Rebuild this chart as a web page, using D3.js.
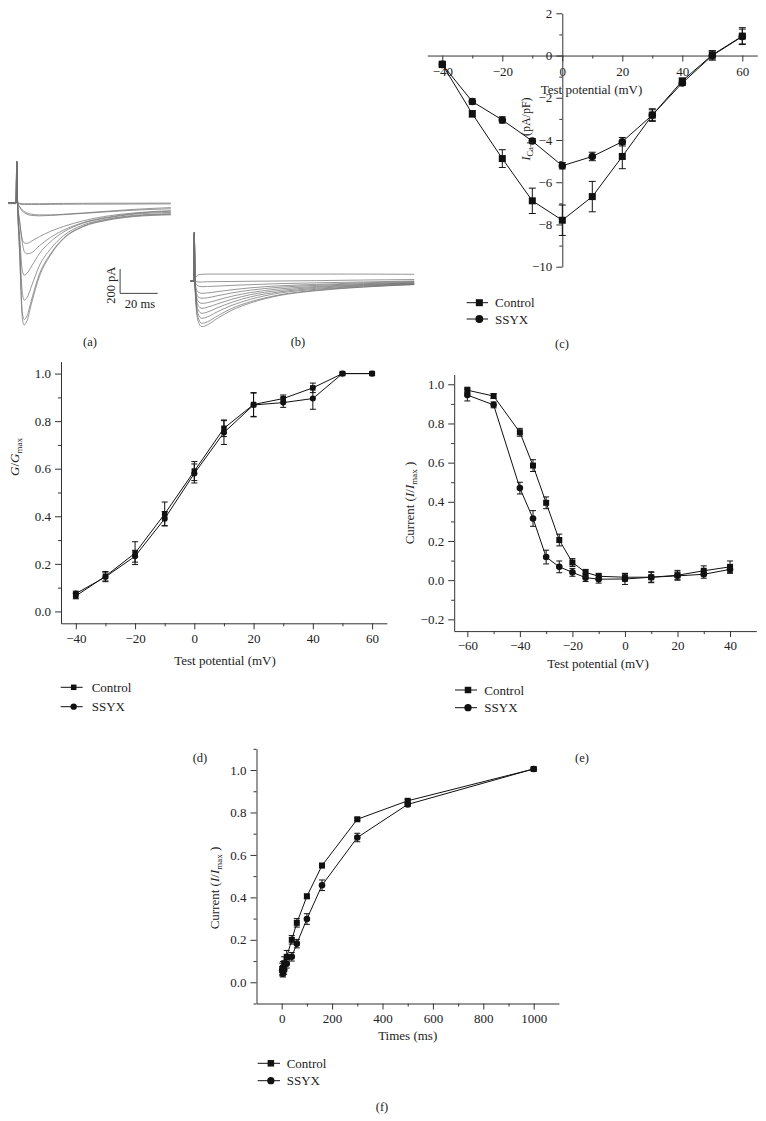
<!DOCTYPE html>
<html><head><meta charset="utf-8">
<script src="https://cdn.jsdelivr.net/npm/d3@7"></script>
<style>
body{margin:0;background:#fff}
svg text{font-family:"Liberation Serif","Times New Roman",serif;fill:#222}
</style>
</head><body>
<svg id="fig" width="766" height="1121"></svg>
<script>
// ---------- DATA ----------
// Panel (a): current traces (pA) vs time (ms)
const timesA = [-4.5, -0.3, 0, 0.5, 1.5, 3, 4, 5.5, 8, 12, 18, 25, 35, 48, 62, 82];
const tracesA = [
  [0, 0, 337, 0, -5, -8, -8, -8, -8, -8, -7, -6, -5, -4, -4, -3],
  [-8, -8, 337, -5, -10, -15, -15, -15, -15, -15, -14, -13, -12, -12, -11, -10],
  [0, 0, 337, -5, -30, -60, -72, -85, -95, -100, -100, -95, -85, -70, -55, -40],
  [0, 0, 337, -5, -35, -70, -82, -95, -105, -108, -105, -98, -88, -75, -62, -50],
  [0, 0, 337, -10, -150, -300, -330, -334, -315, -280, -235, -195, -150, -110, -85, -65],
  [0, 0, 337, -10, -140, -330, -400, -420, -410, -355, -285, -225, -165, -120, -90, -70],
  [0, 0, 337, -15, -250, -560, -595, -580, -520, -420, -320, -240, -170, -125, -95, -80],
  [0, 0, 337, -20, -320, -740, -800, -780, -680, -520, -380, -270, -185, -135, -105, -90],
  [0, 0, 337, -20, -380, -900, -960, -930, -790, -590, -420, -290, -195, -140, -110, -95],
  [0, 0, 337, -25, -400, -950, -1005, -970, -820, -610, -430, -295, -200, -145, -115, -100]
];
const scaleBarA = {t: 55, i: -745, dt: 20, di: 200};
// Panel (b)
const timesB = [-2, -0.3, 0, 0.4, 2, 4, 7, 12, 20, 30, 45, 65, 90, 117];
const tracesB = [
  [0, 0, 397, 30, 50, 55, 57, 57, 57, 57, 57, 57, 57, 55],
  [0, 0, 397, 0, -8, -8, -6, -5, -4, -2, 0, 3, 8, 12],
  [0, 0, 397, -10, -40, -47, -45, -42, -36, -30, -22, -15, -8, 0],
  [0, 0, 397, -20, -90, -101, -98, -88, -72, -56, -40, -28, -15, -5],
  [0, 0, 397, -25, -130, -142, -138, -122, -98, -75, -52, -36, -22, -10],
  [0, 0, 397, -30, -165, -184, -178, -158, -125, -95, -65, -45, -28, -15],
  [0, 0, 397, -35, -200, -225, -215, -190, -150, -112, -78, -52, -32, -18],
  [0, 0, 397, -40, -235, -266, -255, -222, -175, -130, -90, -60, -38, -22],
  [0, 0, 397, -45, -270, -307, -295, -255, -200, -150, -100, -68, -42, -25],
  [0, 0, 397, -50, -300, -348, -335, -290, -225, -170, -115, -75, -48, -28],
  [0, 0, 397, -55, -330, -375, -360, -310, -240, -180, -120, -80, -50, -30]
];

// Panel (c): I-V relationship
const potC = [-40, -30, -20, -10, 0, 10, 20, 30, 40, 50, 60];
const ctrlC = [-0.42, -2.76, -4.88, -6.88, -7.8, -6.68, -4.78, -2.82, -1.2, 0.03, 0.92];
const ctrlCErr = [0.15, 0.15, 0.42, 0.6, 0.72, 0.72, 0.58, 0.3, 0.12, 0.2, 0.4];
const ssyxC = [-0.42, -2.18, -3.05, -4.05, -5.22, -4.78, -4.08, -2.82, -1.3, 0.0, 0.9];
const ssyxCErr = [0.1, 0.13, 0.15, 0.12, 0.15, 0.2, 0.2, 0.25, 0.12, 0.22, 0.35];

// Panel (d): activation
const potD = [-40, -30, -20, -10, 0, 10, 20, 30, 40, 50, 60];
const ctrlD = [0.065, 0.148, 0.245, 0.41, 0.59, 0.77, 0.87, 0.895, 0.94, 1.0, 1.0];
const ctrlDErr = [0.012, 0.02, 0.048, 0.05, 0.04, 0.035, 0.05, 0.015, 0.02, 0.006, 0.006];
const ssyxD = [0.075, 0.145, 0.232, 0.39, 0.58, 0.752, 0.868, 0.878, 0.895, 1.0, 1.0];
const ssyxDErr = [0.01, 0.02, 0.025, 0.03, 0.04, 0.05, 0.05, 0.02, 0.045, 0.006, 0.006];

// Panel (e): inactivation
const potE = [-60, -50, -40, -35, -30, -25, -20, -15, -10, 0, 10, 20, 30, 40];
const ctrlE = [0.97, 0.94, 0.755, 0.585, 0.395, 0.205, 0.09, 0.04, 0.02, 0.015, 0.015, 0.025, 0.048, 0.068];
const ctrlEErr = [0.015, 0.012, 0.02, 0.03, 0.03, 0.03, 0.02, 0.015, 0.015, 0.02, 0.025, 0.025, 0.025, 0.03];
const ssyxE = [0.945, 0.895, 0.47, 0.315, 0.118, 0.068, 0.04, 0.013, 0.005, 0.006, 0.015, 0.022, 0.03, 0.055];
const ssyxEErr = [0.03, 0.015, 0.03, 0.04, 0.035, 0.03, 0.02, 0.02, 0.02, 0.028, 0.028, 0.02, 0.02, 0.02];

// Panel (f): recovery
const timesFC = [2, 5, 10, 20, 40, 60, 100, 160, 300, 500, 1000];
const ctrlF = [0.06, 0.068, 0.09, 0.12, 0.2, 0.28, 0.405, 0.55, 0.768, 0.855, 1.005];
const ctrlFErr = [0.03, 0.03, 0.03, 0.03, 0.02, 0.02, 0.01, 0.01, 0.006, 0.006, 0.005];
const timesFS = [2, 5, 10, 20, 40, 60, 100, 160, 300, 500, 1000];
const ssyxF = [0.055, 0.04, 0.058, 0.087, 0.12, 0.182, 0.298, 0.457, 0.682, 0.838, 1.005];
const ssyxFErr = [0.02, 0.015, 0.02, 0.02, 0.02, 0.02, 0.025, 0.025, 0.02, 0.01, 0.005];

const legendLabels = ["Control", "SSYX"];
const panelLabels = ["(a)", "(b)", "(c)", "(d)", "(e)", "(f)"];

// ---------- DRAW ----------
const svg = d3.select("#fig");
svg.append("rect").attr("width", 766).attr("height", 1121).attr("fill", "#fff");
const FS = 13;

function traces(times, list, xs, ys) {
  const line = d3.line().x((d, i) => xs(times[i])).y(d => ys(d)).curve(d3.curveMonotoneX);
  const g = svg.append("g");
  list.forEach(tr => {
    g.append("path").attr("d", line(tr)).attr("fill", "none")
      .attr("stroke", "#707070").attr("stroke-width", 0.8).attr("stroke-opacity", 0.9);
  });
}

// (a)
const xA = d3.scaleLinear().domain([0, 20]).range([16.7, 54.3]);
const yA = d3.scaleLinear().domain([-1000, 0]).range([324.4, 202.7]);
traces(timesA, tracesA, xA, yA);
{
  const sb = scaleBarA;
  svg.append("path").attr("fill", "none").attr("stroke", "#444").attr("stroke-width", 1)
    .attr("d", `M${xA(sb.t)},${yA(sb.i + sb.di)}V${yA(sb.i)}H${xA(sb.t + sb.dt)}`);
  svg.append("text").attr("font-size", 12.5).attr("text-anchor", "middle")
    .attr("transform", `translate(${xA(sb.t) - 5},${(yA(sb.i + sb.di) + yA(sb.i)) / 2 + 4}) rotate(-90)`)
    .text("200 pA");
  svg.append("text").attr("font-size", 12.5).attr("text-anchor", "middle")
    .attr("x", xA(sb.t + sb.dt / 2) + 1).attr("y", yA(sb.i) + 15).text("20 ms");
}
// (b)
const xB = d3.scaleLinear().domain([0, 20]).range([194.3, 231.9]);
const yB = d3.scaleLinear().domain([-1000, 0]).range([402.7, 281]);
traces(timesB, tracesB, xB, yB);

function axisStyle(s) {
  s.selectAll("path,line").attr("stroke", "#333").attr("stroke-width", 1);
  s.selectAll("text").attr("font-size", FS).attr("font-family", "Liberation Serif, serif").attr("fill", "#222");
}
const fmtInt = d => d3.format("d")(d);
const fmt1 = d => d3.format(".1f")(d);

function xyPanel(o) {
  const g = svg.append("g");
  const x = d3.scaleLinear().domain(o.xDomain).range(o.xRange);
  const y = d3.scaleLinear().domain(o.yDomain).range(o.yRange);
  const ax = o.cross ? y(0) : o.yRange[0];
  const ay = o.cross ? x(0) : o.xRange[0];
  g.append("g").attr("transform", `translate(0,${ax})`)
    .call(d3.axisBottom(x).tickValues(o.xMinor).tickSize(3).tickFormat(""))
    .call(s => s.select(".domain").remove()).call(axisStyle);
  g.append("g").attr("transform", `translate(${ay},0)`)
    .call(d3.axisLeft(y).tickValues(o.yMinor).tickSize(3).tickFormat(""))
    .call(s => s.select(".domain").remove()).call(axisStyle);
  g.append("g").attr("transform", `translate(0,${ax})`)
    .call(d3.axisBottom(x).tickValues(o.xMajor).tickSize(6).tickSizeOuter(0).tickPadding(o.xPad || 4).tickFormat(o.xFmt))
    .call(axisStyle);
  g.append("g").attr("transform", `translate(${ay},0)`)
    .call(d3.axisLeft(y).tickValues(o.yMajor).tickSize(6).tickSizeOuter(0).tickPadding(o.yPad || 4).tickFormat(o.yFmt))
    .call(axisStyle);
  o.series.forEach(s => {
    const pts = s.x.map((xv, i) => ({x: xv, y: s.y[i], e: s.err[i]}));
    g.append("path").attr("fill", "none").attr("stroke", "#111").attr("stroke-width", 1)
      .attr("d", d3.line().x(d => x(d.x)).y(d => y(d.y))(pts));
    const cap = o.cap;
    pts.forEach(d => {
      g.append("path").attr("fill", "none").attr("stroke", "#111").attr("stroke-width", 1)
        .attr("d", `M${x(d.x) - cap},${y(d.y + d.e)}H${x(d.x) + cap}M${x(d.x)},${y(d.y + d.e)}V${y(d.y - d.e)}M${x(d.x) - cap},${y(d.y - d.e)}H${x(d.x) + cap}`);
    });
    pts.forEach(d => {
      if (s.shape === "square") {
        g.append("rect").attr("x", x(d.x) - o.ms / 2).attr("y", y(d.y) - o.ms / 2)
          .attr("width", o.ms).attr("height", o.ms).attr("fill", "#111");
      } else {
        g.append("circle").attr("cx", x(d.x)).attr("cy", y(d.y)).attr("r", o.ms / 2 + 0.3).attr("fill", "#111");
      }
    });
  });
  g.append("text").attr("font-size", FS).attr("text-anchor", "middle")
    .attr("x", o.xTitle[0]).attr("y", o.xTitle[1]).text(o.xTitle[2]);
  const yt = g.append("text").attr("font-size", o.yTitleSize || FS).attr("text-anchor", "middle")
    .attr("transform", `translate(${o.yTitle[0]},${o.yTitle[1]}) rotate(-90)`);
  o.yTitle[2](yt);
  const L = o.legend;
  [0, 1].forEach(i => {
    const ly = L.y[i];
    g.append("line").attr("x1", L.x1).attr("x2", L.x2).attr("y1", ly).attr("y2", ly)
      .attr("stroke", "#111").attr("stroke-width", 1);
    const cx = (L.x1 + L.x2) / 2 + 2;
    if (i === 0) g.append("rect").attr("x", cx - L.ms / 2).attr("y", ly - L.ms / 2).attr("width", L.ms).attr("height", L.ms).attr("fill", "#111");
    else g.append("circle").attr("cx", cx).attr("cy", ly).attr("r", L.ms / 2 + 0.4).attr("fill", "#111");
    g.append("text").attr("font-size", FS).attr("x", L.tx).attr("y", ly + 4.5).text(legendLabels[i]);
  });
}

function yLabelCurrent(t) {
  t.append("tspan").text("Current (");
  t.append("tspan").attr("font-style", "italic").text("I");
  t.append("tspan").text("/");
  t.append("tspan").attr("font-style", "italic").text("I");
  t.append("tspan").attr("font-size", 9).attr("dy", 3).text("max");
  t.append("tspan").attr("dy", -3).text(" )");
}

// (c)
xyPanel({
  xDomain: [-45, 65], xRange: [427.3, 757.3],
  yDomain: [-10, 2], yRange: [266.7, 13.3], cross: true,
  xMajor: [-40, -20, 0, 20, 40, 60], xMinor: [-30, -10, 10, 30, 50], xFmt: fmtInt, xPad: 5,
  yMajor: [-10, -8, -6, -4, -2, 0, 2], yMinor: [-9, -7, -5, -3, -1, 1], yFmt: fmtInt,
  ms: 7, cap: 3.5,
  series: [
    {x: potC, y: ctrlC, err: ctrlCErr, shape: "square"},
    {x: potC, y: ssyxC, err: ssyxCErr, shape: "circle"}
  ],
  xTitle: [591.5, 94, "Test potential (mV)"],
  yTitleSize: 12,
  yTitle: [530, 129, t => {
    t.append("tspan").attr("font-style", "italic").text("I");
    t.append("tspan").attr("font-size", 8.5).attr("dy", 3).text("Ca-L");
    t.append("tspan").attr("dy", -3).text(" (pA/pF)");
  }],
  legend: {x1: 466.7, x2: 488, y: [302.7, 319], tx: 495, ms: 7}
});

// (d)
xyPanel({
  xDomain: [-45, 65], xRange: [61, 386.9],
  yDomain: [-0.05, 1.05], yRange: [623.3, 361.7],
  xMajor: [-40, -20, 0, 20, 40, 60], xMinor: [-30, -10, 10, 30, 50], xFmt: fmtInt,
  yMajor: [0, 0.2, 0.4, 0.6, 0.8, 1.0], yMinor: [0.1, 0.3, 0.5, 0.7, 0.9], yFmt: fmt1,
  ms: 5.5, cap: 3,
  series: [
    {x: potD, y: ctrlD, err: ctrlDErr, shape: "square"},
    {x: potD, y: ssyxD, err: ssyxDErr, shape: "circle"}
  ],
  xTitle: [225, 665, "Test potential (mV)"],
  yTitle: [19, 457, t => {
    t.append("tspan").attr("font-style", "italic").text("G");
    t.append("tspan").text("/");
    t.append("tspan").attr("font-style", "italic").text("G");
    t.append("tspan").attr("font-size", 9).attr("dy", 3).text("max");
  }],
  legend: {x1: 60.7, x2: 82.7, y: [687.3, 706.7], tx: 91.7, ms: 5.5}
});

// (e)
xyPanel({
  xDomain: [-65, 50], xRange: [454.2, 756.3],
  yDomain: [-0.26, 1.05], yRange: [631.1, 374.5],
  xMajor: [-60, -40, -20, 0, 20, 40], xMinor: [-50, -30, -10, 10, 30], xFmt: fmtInt,
  yMajor: [-0.2, 0, 0.2, 0.4, 0.6, 0.8, 1.0], yMinor: [-0.1, 0.1, 0.3, 0.5, 0.7, 0.9], yFmt: fmt1,
  ms: 6, cap: 3,
  series: [
    {x: potE, y: ctrlE, err: ctrlEErr, shape: "square"},
    {x: potE, y: ssyxE, err: ssyxEErr, shape: "circle"}
  ],
  xTitle: [598, 667.5, "Test potential (mV)"],
  yTitle: [414, 503, yLabelCurrent],
  legend: {x1: 455, x2: 477, y: [690, 707.7], tx: 484.3, ms: 6.5}
});

// (f)
xyPanel({
  xDomain: [-100, 1100], xRange: [256.5, 558.9],
  yDomain: [-0.1, 1.1], yRange: [1003.5, 748.8],
  xMajor: [0, 200, 400, 600, 800, 1000], xMinor: [100, 300, 500, 700, 900], xFmt: fmtInt,
  yMajor: [0, 0.2, 0.4, 0.6, 0.8, 1.0], yMinor: [-0.1, 0.1, 0.3, 0.5, 0.7, 0.9, 1.1], yFmt: fmt1,
  ms: 6, cap: 3,
  series: [
    {x: timesFC, y: ctrlF, err: ctrlFErr, shape: "square"},
    {x: timesFS, y: ssyxF, err: ssyxFErr, shape: "circle"}
  ],
  xTitle: [407.7, 1040, "Times (ms)"],
  yTitle: [219, 888, yLabelCurrent],
  legend: {x1: 257.7, x2: 280, y: [1063.3, 1080.7], tx: 286.7, ms: 6.5}
});

// panel labels
const labelPos = [[90, 346], [298, 346], [562, 348], [200, 762], [582, 762], [382, 1111]];
panelLabels.forEach((l, i) => {
  svg.append("text").attr("font-size", 12.5).attr("text-anchor", "middle")
    .attr("x", labelPos[i][0]).attr("y", labelPos[i][1]).text(l);
});
</script>
</body></html>
